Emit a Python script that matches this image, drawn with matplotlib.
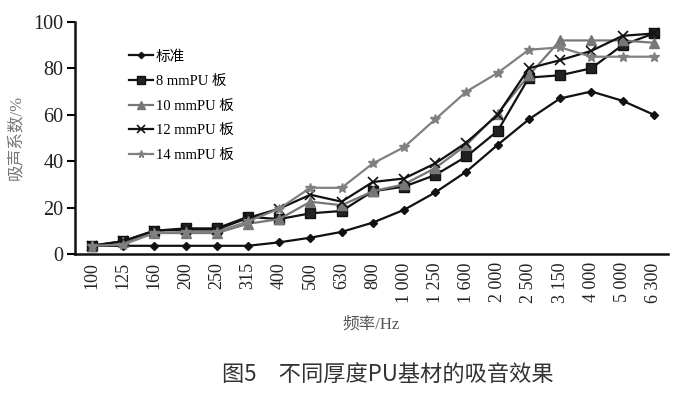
import numpy as np
import matplotlib.pyplot as plt

freqs = ['100', '125', '160', '200', '250', '315', '400', '500', '630', '800',
         '1 000', '1 250', '1 600', '2 000', '2 500', '3 150', '4 000', '5 000', '6 300']

standard = [3.5, 3.5, 3.5, 3.5, 3.5, 3.5, 5, 7, 9.5, 13.5, 19, 26.5, 35.5, 47, 58, 67, 70, 66, 60]
pu_8 = [3.5, 5.5, 10, 11, 11, 16, 15, 17.5, 18.5, 27, 29, 34, 42, 53, 76, 77, 80, 90, 95]
pu_10 = [3.5, 5, 9, 9, 9, 13, 15, 22.5, 21, 27, 30, 37, 47, 60.5, 77, 92, 92, 92, 91]
pu_12 = [3.5, 5.5, 10, 10.5, 10.5, 15.5, 19.5, 25.5, 22.5, 31, 32.5, 39, 48, 60, 80, 83.5, 87.5, 94, 95]
pu_14 = [3.5, 4, 9, 9.5, 9.5, 14, 19.5, 28.5, 28.5, 39, 46, 58, 70, 78, 88, 89, 85, 85, 85]

labels = ['标准', '8 mmPU 板', '10 mmPU 板', '12 mmPU 板', '14 mmPU 板']

serif = ['Liberation Serif', 'Noto Sans CJK SC', 'DejaVu Sans']


def main():
    fig = plt.figure(figsize=(6.92, 3.98), dpi=100)
    ax = fig.add_axes([0.108, 0.362, 0.857, 0.583])

    x = np.arange(len(freqs))
    ax.plot(x, standard, color='#111111', lw=1.6, marker='D', ms=4, label=labels[0])
    ax.plot(x, pu_8, color='#111111', lw=1.6, marker='s', ms=6.5, mfc='#222222', label=labels[1])
    ax.plot(x, pu_10, color='#777777', lw=1.6, marker='^', ms=6.5, label=labels[2])
    ax.plot(x, pu_12, color='#111111', lw=1.6, marker='x', ms=7, mew=1.2, label=labels[3])
    ax.plot(x, pu_14, color='#808080', lw=1.6, marker='*', ms=7, label=labels[4])

    ax.set_xlim(-0.55, 18.45)
    ax.set_ylim(0, 100)
    ax.set_yticks([0, 20, 40, 60, 80, 100])
    ax.set_xticks(x)
    ax.set_xticklabels(freqs, rotation=90, va='top', family=serif, fontsize=13, color='#222222')
    for t in ax.get_yticklabels():
        t.set_family(serif)
        t.set_fontsize(14.5)
        t.set_color('#222222')

    ax.tick_params(axis='x', length=0, pad=6)
    ax.tick_params(axis='y', length=6, width=1.5, direction='out', pad=2)
    for s in ['top', 'right']:
        ax.spines[s].set_visible(False)
    for s in ['left', 'bottom']:
        ax.spines[s].set_linewidth(1.8)
        ax.spines[s].set_color('#111111')

    ax.set_ylabel('吸声系数/%', family=serif, fontsize=12, color='#777777', labelpad=6)
    ax.set_xlabel('频率/Hz', family=serif, fontsize=12, color='#555555', labelpad=10)

    ax.legend(loc='upper left', bbox_to_anchor=(0.07, 0.935), frameon=False,
              prop={'family': serif, 'size': 10.5}, handlelength=1.6, handletextpad=0.2,
              labelspacing=0.78, markerscale=0.8)

    fig.text(0.56, 0.058, '图5　不同厚度PU基材的吸音效果', ha='center', va='center',
             family=['Noto Sans CJK SC', 'DejaVu Sans'], fontsize=16, color='#333333')

    fig.savefig('out.png', dpi=100)


if __name__ == "__main__":
    main()
